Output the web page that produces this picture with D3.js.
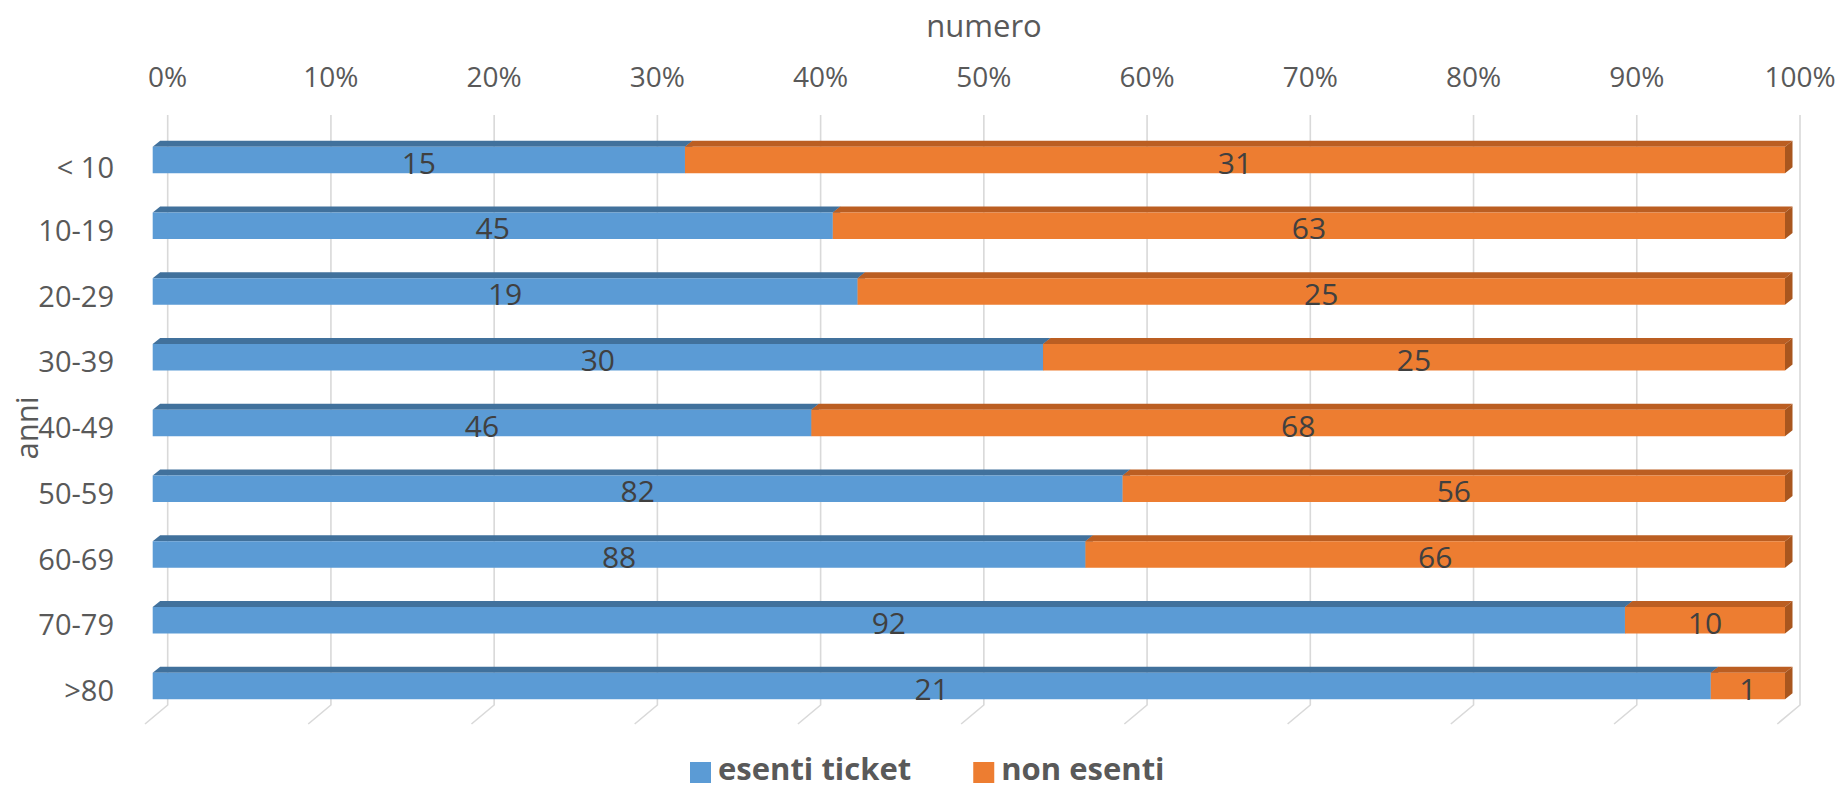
<!DOCTYPE html>
<html>
<head>
<meta charset="utf-8">
<script src="https://cdn.jsdelivr.net/npm/d3@7"></script>
<style>
html,body{margin:0;padding:0;background:#fff;}
svg{display:block;font-family:"Open Sans",sans-serif;}
</style>
</head>
<body>
<svg id="chart" width="1840" height="790"></svg>
<script>
const categories = ["< 10","10-19","20-29","30-39","40-49","50-59","60-69","70-79",">80"];
const esenti = [15,45,19,30,46,82,88,92,21];
const nonEsenti = [31,63,25,25,68,56,66,10,1];
const seriesNames = ["esenti ticket","non esenti"];
const tickValues = [0,0.1,0.2,0.3,0.4,0.5,0.6,0.7,0.8,0.9,1];
const xTitle = "numero";
const yTitle = "anni";

const svg = d3.select("#chart");

const x = d3.scaleLinear().domain([0,1]).range([152.7,1785]);
const y = d3.scalePoint().domain(categories).range([160,686]);
const barH = 26.5;
const dx = 7.5, dy = 6;
const wallDx = 15;
const gridTop = 115, gridBottom = 705;
const floorDx = -22.7, floorDy = 19;

const colors = {
  front: ["#5B9BD5","#ED7D31"],
  top: ["#41719C","#BB5E22"],
  side: ["#41719C","#A9561E"]
};

const grid = svg.append("g");
tickValues.forEach(t => {
  const gx = x(t) + wallDx;
  grid.append("path")
    .attr("d", `M${gx},${gridTop}L${gx},${gridBottom}L${gx+floorDx},${gridBottom+floorDy}`)
    .attr("fill","none").attr("stroke","#D9D9D9").attr("stroke-width",1.6);
});

svg.append("g").selectAll("text").data(tickValues).join("text")
  .attr("x", d => x(d) + wallDx)
  .attr("y", 87)
  .attr("text-anchor","middle")
  .attr("font-size",28)
  .attr("fill","#595959")
  .text(d3.format(".0%"));

svg.append("text").attr("x",984).attr("y",37).attr("text-anchor","middle")
  .attr("font-size",31).attr("fill","#595959").text(xTitle);
svg.append("text").attr("transform","translate(38,428) rotate(-90)")
  .attr("text-anchor","middle").attr("font-size",31).attr("fill","#595959").text(yTitle);

svg.append("g").selectAll("text").data(categories).join("text")
  .attr("x",114)
  .attr("y",(d,i) => y(d) + 5 + (i===0?3:0))
  .attr("dy","0.35em")
  .attr("text-anchor","end")
  .attr("font-size",29)
  .attr("fill","#595959")
  .text(d => d);

const rows = categories.map((c,i) => {
  const tot = esenti[i] + nonEsenti[i];
  return {cat:c, segs:[
    {s:0, v:esenti[i], x0:0, x1:esenti[i]/tot},
    {s:1, v:nonEsenti[i], x0:esenti[i]/tot, x1:1}
  ]};
});

const bars = svg.append("g");
rows.forEach(r => {
  const yt = y(r.cat) - barH/2, yb = y(r.cat) + barH/2;
  r.segs.forEach(sg => {
    const a = x(sg.x0), b = x(sg.x1);
    bars.append("path")
      .attr("d",`M${a},${yt}L${a+dx},${yt-dy}L${b+dx},${yt-dy}L${b},${yt}Z`)
      .attr("fill",colors.top[sg.s]);
    bars.append("path")
      .attr("d",`M${b},${yt}L${b+dx},${yt-dy}L${b+dx},${yb-dy}L${b},${yb}Z`)
      .attr("fill",colors.side[sg.s]);
  });
  r.segs.forEach(sg => {
    const a = x(sg.x0), b = x(sg.x1);
    bars.append("rect")
      .attr("x",a).attr("y",yt).attr("width",b-a).attr("height",barH)
      .attr("fill",colors.front[sg.s]);
  });
  r.segs.forEach(sg => {
    bars.append("text")
      .attr("x",(x(sg.x0)+x(sg.x1))/2)
      .attr("y",y(r.cat)+3)
      .attr("dy","0.35em")
      .attr("text-anchor","middle")
      .attr("font-size",30)
      .attr("fill","#404040")
      .text(sg.v);
  });
});

const leg = svg.append("g");
let lx = 690;
seriesNames.forEach((n,i) => {
  leg.append("rect").attr("x",lx).attr("y",762).attr("width",21).attr("height",21)
    .attr("fill",colors.front[i]);
  const t = leg.append("text").attr("x",lx+28).attr("y",780)
    .attr("font-size",31).attr("font-weight","bold").attr("fill","#595959").text(n);
  lx = lx + 28 + t.node().getComputedTextLength() + 62;
});
</script>
</body>
</html>
